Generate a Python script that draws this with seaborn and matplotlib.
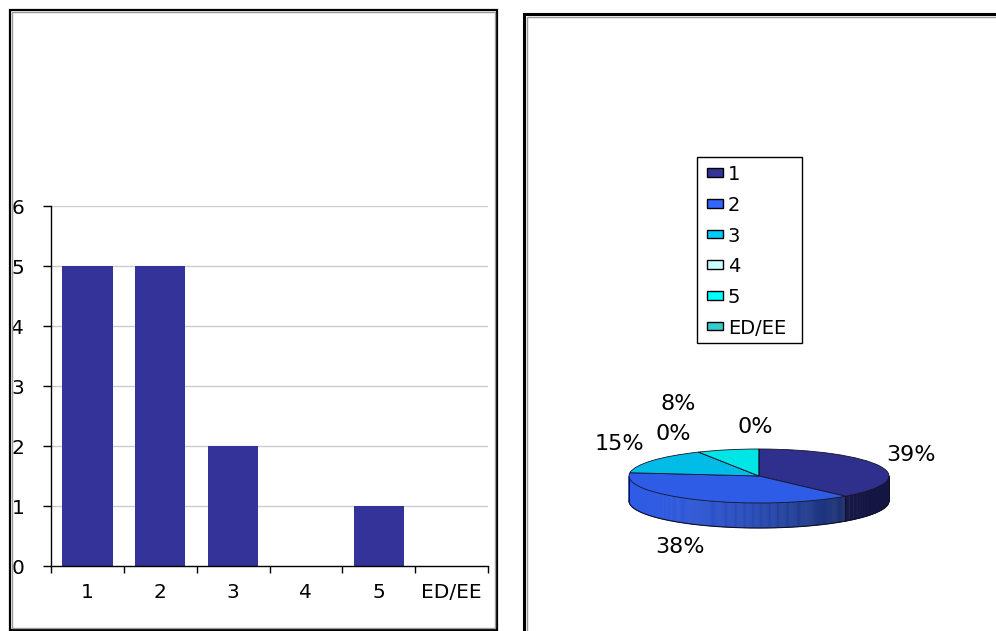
import numpy as np
import pandas as pd
import matplotlib
matplotlib.use("Agg")
import matplotlib.pyplot as plt
import matplotlib.colors as mcolors
from matplotlib.patches import Rectangle, Patch, Polygon
from matplotlib.legend_handler import HandlerPatch
import seaborn as sns

# ---------------- data ----------------
categories = ["1", "2", "3", "4", "5", "ED/EE"]
counts = [5, 5, 2, 0, 1, 0]
pct_labels = ["39%", "38%", "15%", "0%", "8%", "0%"]
palette = ["#333399", "#3366FF", "#00CCFF", "#CCFFFF", "#00FFFF", "#33CCCC"]
y_ticks = [0, 1, 2, 3, 4, 5, 6]

sns.set_style("white")
plt.rcParams["font.family"] = ["DejaVu Sans"]
plt.rcParams["text.color"] = "black"
plt.rcParams["xtick.color"] = "black"
plt.rcParams["ytick.color"] = "black"
plt.rcParams["xtick.labelcolor"] = "black"
plt.rcParams["ytick.labelcolor"] = "black"
plt.rcParams["legend.labelcolor"] = "black"

W, H = 996, 631
fig = plt.figure(figsize=(W / 100, H / 100), dpi=100)


def fx(x):
    return x / W


def fy(y):
    return 1 - y / H


# ---------------- panel borders ----------------
fig.patches.append(Rectangle((fx(10), fy(630)), fx(497) - fx(10), fy(10) - fy(630),
                             transform=fig.transFigure, fill=False, edgecolor="black", lw=1.6))
fig.patches.append(Rectangle((fx(12), fy(628)), fx(495) - fx(12), fy(12) - fy(628),
                             transform=fig.transFigure, fill=False, edgecolor="#9a9a9a", lw=1.0))
fig.patches.append(Rectangle((fx(523.5), fy(640)), fx(1010) - fx(523.5), fy(14) - fy(640),
                             transform=fig.transFigure, fill=False, edgecolor="black", lw=2.2))
fig.patches.append(Rectangle((fx(526.5), fy(640)), fx(1010) - fx(526.5), fy(17) - fy(640),
                             transform=fig.transFigure, fill=False, edgecolor="#9a9a9a", lw=1.0))

# ---------------- bar chart ----------------
ax1 = fig.add_axes([fx(51), fy(566), fx(488) - fx(51), fy(206) - fy(566)])
df = pd.DataFrame({"cat": categories, "count": counts})
sns.barplot(data=df, x="cat", y="count", color="#333399", saturation=1,
            width=0.69, ax=ax1, edgecolor="none", zorder=3)
ax1.set_xlim(-0.5, len(categories) - 0.5)
ax1.set_ylim(0, 6)
ax1.set_yticks(y_ticks)
ax1.set_xlabel("")
ax1.set_ylabel("")
for y in y_ticks[1:]:
    ax1.axhline(y, color="#cccccc", lw=1.0, zorder=1)
for s in ["top", "right"]:
    ax1.spines[s].set_visible(False)
for s in ["left", "bottom"]:
    ax1.spines[s].set_color("black")
    ax1.spines[s].set_linewidth(1.0)
    ax1.spines[s].set_zorder(4)
ax1.tick_params(axis="y", direction="out", length=6, width=1, color="black",
                pad=13.3, labelsize=14.5, left=True)
ax1.tick_params(axis="x", which="major", length=0, pad=12, labelsize=14.5)
ax1.set_xticks(np.arange(-0.5, len(categories)), minor=True)
ax1.tick_params(axis="x", which="minor", direction="out", length=5, width=1,
                color="black", bottom=True)
ax1.set_facecolor("none")

# ---------------- 3D-like pie ----------------
cx, cy, rx, ry, depth_px = 759, 476, 130, 27, 25
ax2 = fig.add_axes([fx(cx - 1.4 * rx), fy(cy + 2.5 * ry), 2.8 * rx / W, 5 * ry / H])
d = depth_px / ry

vals = np.array(counts, dtype=float)
fr = vals / vals.sum()
bounds = 90 - 360 * np.concatenate([[0], np.cumsum(fr)])  # clockwise from top

top_cols = [tuple(np.array(mcolors.to_rgb(c)) * 0.92) for c in palette]
top_cols[1] = mcolors.to_rgb("#2E5CE6")
top_cols[2] = mcolors.to_rgb("#00BCE6")
top_cols[4] = mcolors.to_rgb("#00E6E6")

side_dark = {0: ("#17174a", "#13133d"), 1: ("#2E5CE6", "#1A2D6B"),
             2: ("#0090b0", "#007090"), 4: ("#00b0b0", "#009090")}

for i in range(len(vals)):
    if vals[i] == 0:
        continue
    lo, hi = bounds[i + 1], bounds[i]
    segs = []
    for shift in (-360, 0, 360):
        s_lo, s_hi = max(lo + shift, -180), min(hi + shift, 0)
        if s_hi > s_lo:
            segs.append((s_lo, s_hi))
    c_left, c_right = side_dark.get(i, ("#333333", "#222222"))
    cl, cr = np.array(mcolors.to_rgb(c_left)), np.array(mcolors.to_rgb(c_right))
    for s_lo, s_hi in segs:
        th = np.linspace(s_lo, s_hi, max(int((s_hi - s_lo) * 2), 2))
        for k in range(len(th) - 1):
            t0, t1 = np.radians(th[k]), np.radians(th[k + 1])
            xm = (np.cos(t0) + np.cos(t1)) / 2
            t = np.clip((xm + 1) / 1.68, 0, 1) ** 1.6 if i == 1 else 0.5
            col = cl * (1 - t) + cr * t
            poly = [(np.cos(t0), np.sin(t0)), (np.cos(t1), np.sin(t1)),
                    (np.cos(t1), np.sin(t1) - d), (np.cos(t0), np.sin(t0) - d)]
            ax2.add_patch(Polygon(poly, closed=True, facecolor=col, edgecolor=col,
                                  lw=0.4, zorder=1))
        for a in (s_lo, s_hi):
            r = np.radians(a)
            ax2.plot([np.cos(r), np.cos(r)], [np.sin(r), np.sin(r) - d],
                     color="#111122", lw=0.7, zorder=2)

th = np.radians(np.linspace(-180, 0, 200))
ax2.plot(np.cos(th), np.sin(th) - d, color="#111122", lw=0.8, zorder=2)

ax2.pie(vals, colors=top_cols, startangle=90, counterclock=False,
        wedgeprops=dict(edgecolor="#15152a", linewidth=0.6, zorder=3))
ax2.set_aspect("auto")
ax2.set_xlim(-1.4, 1.4)
ax2.set_ylim(-2.5, 2.5)
ax2.axis("off")

label_pos = [(911, 455), (680, 547), (619, 444), (673, 434), (678, 404), (755, 427)]
for lab, (px, py) in zip(pct_labels, label_pos):
    fig.text(fx(px), fy(py), lab, ha="center", va="center", fontsize=16, color="black")


# ---------------- legend ----------------
def right_box(legend, orig_handle, xdescent, ydescent, width, height, fontsize):
    w, h = 11.5, 6.2
    return Rectangle((-xdescent + width - w, -ydescent + (height - h) / 2 + 0.5), w, h)


fig.patches.append(Rectangle((fx(697), fy(343)), fx(802) - fx(697), fy(157) - fy(343),
                             transform=fig.transFigure, fill=True, facecolor="white",
                             edgecolor="black", lw=1.0, zorder=0))
handles = [Patch(facecolor=c, edgecolor="black", linewidth=1.0) for c in palette]
leg = fig.legend(handles, categories, loc="upper left",
                 bbox_to_anchor=(fx(697), fy(159)), bbox_transform=fig.transFigure,
                 frameon=False, fontsize=14, handlelength=1.01, handleheight=0.6,
                 handletextpad=0.26, labelspacing=0.6, borderpad=0.32, borderaxespad=0,
                 handler_map={Patch: HandlerPatch(patch_func=right_box)})

fig.savefig("out.png", dpi=100)
